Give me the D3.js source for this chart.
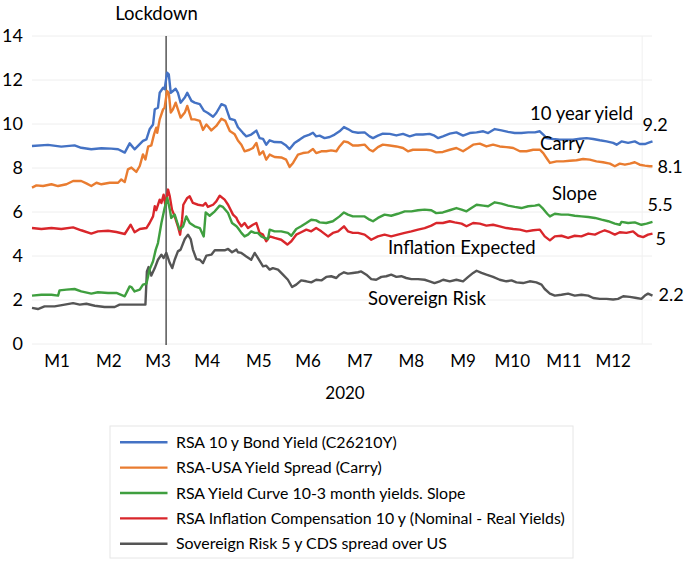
<!DOCTYPE html>
<html>
<head>
<meta charset="utf-8">
<script src="https://cdn.jsdelivr.net/npm/d3@7"></script>
<style>
  body { margin: 0; background: #fff; }
  text { font-family: Lato, "Noto Sans", sans-serif; fill: #000; }
</style>
</head>
<body>
<div id="chart"></div>
<script>
// trading-day index (0..252) and value
var bondYield = [
  [0,9.00],[6.5,9.05],[11.9,8.97],[17.3,9.03],[20,8.92],[24.1,8.85],[28.2,8.90],[32.2,8.88],[35,8.85],[37.7,8.70],
  [39.7,9.12],[41.7,8.85],[45.1,9.23],[46.5,9.30],[47.8,9.76],[49.2,9.98],[49.9,10.67],[51.2,10.74],[51.9,11.42],
  [53.3,11.65],[53.9,11.58],[54.9,12.33],[55.6,12.26],[56.4,11.42],[57.3,11.50],[58.4,11.60],[59.3,11.42],[60.4,10.97],
  [62.1,11.20],[63.1,11.42],[64.8,11.05],[66.1,10.97],[68.2,10.90],[69.9,10.60],[71.5,10.50],[73.6,10.33],[74.9,10.50],
  [77,10.90],[78.6,10.82],[80.4,10.24],[82.4,10.18],
  [83.7,9.85],[85.7,9.60],[87.1,9.44],[89.1,9.52],[91.2,9.70],[92.5,9.36],[93.9,9.32],[95.2,9.06],[96.6,9.26],
  [98.6,9.18],[101.3,9.17],[103.3,9.02],[104.7,8.86],[106.7,9.14],[108.8,9.29],[110.8,9.44],[112.8,9.52],[114.2,9.60],
  [115.5,9.44],[116.9,9.47],[118.9,9.36],[121,9.41],[123,9.52],[125,9.67],[126.8,9.86],[128.4,9.77],[130.4,9.64],
  [132.5,9.60],[135.2,9.62],[137.2,9.44],[138.6,9.36],[140.6,9.47],[142.6,9.56],[145.4,9.55],[148.1,9.48],[150.8,9.55],
  [153.5,9.44],[156.2,9.53],[158.9,9.52],[161.6,9.55],[163.6,9.47],[165,9.36],[167,9.44],
  [169.8,9.56],[172.5,9.62],[175.2,9.47],[177.9,9.59],[180.7,9.62],[183.4,9.67],[185.4,9.59],[188.1,9.77],[190.8,9.71],
  [193.5,9.64],[196.2,9.59],[198.9,9.59],[201.7,9.62],[204.4,9.62],[206.4,9.67],[207.8,9.52],[209.1,9.36],[211.8,9.32],
  [214.5,9.29],[217.2,9.29],[219.9,9.29],[222.7,9.33],[225.4,9.36],[228.1,9.32],[230.8,9.26],[233.5,9.21],[236.2,9.14],
  [237.6,9.06],[239.6,9.21],[242.3,9.14],[245,9.21],[247,9.09],[249.1,9.09],[250.4,9.14],[252.2,9.21]
];
var carry = [
  [0,7.11],[1.8,7.21],[4.5,7.18],[7.9,7.26],[10.6,7.18],[14,7.26],[16.7,7.41],[20,7.41],[22.1,7.30],[24.1,7.18],
  [26.2,7.33],[28.2,7.26],[31.6,7.33],[35,7.33],[36.3,7.48],[37.7,7.36],[39,7.94],[40.4,8.02],[42.4,7.82],[43.8,8.09],
  [45.1,8.62],[46.1,8.39],[47.2,8.97],[48.5,9.03],[49.6,9.53],[50.5,9.83],[50.9,9.60],[51.9,10.21],[53.3,10.67],
  [53.9,10.74],[54.9,11.50],[55.6,11.42],[56.4,10.52],[57.3,10.67],[58.4,10.97],[59.3,10.67],[60.4,10.29],[62.1,10.52],
  [63.1,10.82],[64.8,10.21],[66.1,10.21],[68.2,10.14],[69.5,9.73],[70.9,9.98],[72.9,9.71],[74.9,9.91],[77,10.24],
  [78.6,10.14],[80.4,9.68],[82.4,9.53],
  [83.7,9.25],[85.1,9.06],[86.4,8.76],[88.4,8.83],[89.8,8.91],[91.2,9.14],[92.5,8.61],[93.9,8.76],[95.2,8.38],
  [96.6,8.61],[98.6,8.50],[101.3,8.48],[103.3,8.38],[104.7,8.05],[106.1,8.23],[108.1,8.61],[110.1,8.68],[112.2,8.71],
  [114.2,8.86],[115.5,8.68],[117.6,8.76],[119.6,8.76],[121.6,8.80],[123.7,8.76],[125,8.98],[126.8,9.21],[128.4,9.17],
  [130.4,9.02],[132.5,9.02],[135.2,9.06],[137.2,8.83],[138.6,8.76],[140.6,8.95],[142.6,9.06],[145.4,9.02],[148.1,8.98],
  [150.8,8.91],[152.8,8.76],[154.8,8.83],[157.5,8.83],[160.3,8.83],[162.3,8.80],[164.3,8.71],[167,8.73],
  [169.8,8.83],[172.5,8.91],[175.2,8.76],[177.3,8.91],[179.3,9.06],[182,9.11],[184.7,8.98],[187.4,9.06],[190.1,8.98],
  [192.8,8.95],[195.6,8.91],[198.3,8.76],[201,8.76],[203.7,8.83],[206.4,8.83],[207.8,8.68],[209.4,8.41],[210.5,8.23],
  [213.2,8.30],[215.9,8.30],[218.6,8.33],[221.3,8.35],[224,8.41],[226.7,8.38],[229.4,8.30],[232.1,8.26],[234.9,8.20],
  [236.9,8.08],[238.9,8.20],[241,8.15],[243,8.20],[245,8.26],[247,8.15],[249.1,8.11],[251.1,8.08],[252.2,8.08]
];
var slope = [
  [0,2.20],[3.8,2.24],[7.9,2.24],[10.6,2.20],[11.2,2.44],[14,2.47],[17.3,2.50],[20,2.39],[24.1,2.29],[26.8,2.35],
  [30.9,2.32],[34.3,2.32],[37.7,2.17],[39.7,2.62],[40.4,2.59],[41.7,2.39],[43.8,2.47],[45.1,2.70],[46.5,2.74],
  [47.8,3.38],[49.2,3.76],[50.3,4.29],[51.2,4.59],[52.6,5.50],[53.9,6.18],[55,6.64],[56,6.11],[56.6,5.73],[58,5.88],
  [59.1,5.50],[60,5.20],[61.4,5.35],[62.7,5.80],[64.1,5.50],[66.1,5.35],[68.2,5.27],[69.8,4.89],[70.6,5.98],[72.2,5.83],
  [74.3,6.03],[76.3,6.29],[77.6,6.23],[79.7,5.95],[81.3,5.50],[83.1,5.35],
  [83.7,5.27],[85.1,5.05],[86.4,4.89],[87.8,4.97],[89.1,5.12],[90.5,5.05],[91.8,5.05],[93.2,4.89],[94.5,4.82],
  [95.9,4.77],[96.6,5.20],[98.6,5.12],[101.3,5.12],[104,5.05],[105.4,4.92],[107.4,5.23],[109.4,5.35],[111.5,5.50],
  [113.5,5.65],[115.5,5.62],[116.9,5.53],[119.6,5.50],[122.3,5.58],[125,5.80],[126.8,5.98],[128.4,5.88],[130.4,5.80],
  [132.5,5.80],[135.2,5.80],[137.2,5.65],[138.6,5.58],[140.6,5.73],[143.3,5.88],[146,5.83],[148.7,5.92],[151.5,6.03],
  [154.2,6.03],[156.9,6.08],[159.6,6.11],[162.3,6.08],[164.3,5.95],[167,5.98],
  [169.8,6.08],[172.5,6.18],[174.6,6.11],[176.6,6.03],[178.6,6.18],[180.7,6.33],[183.4,6.29],[185.4,6.26],[188.1,6.44],
  [190.8,6.38],[193.5,6.29],[196.2,6.23],[198.9,6.18],[201.7,6.26],[204.4,6.29],[206.1,6.33],[207.8,6.14],[209.4,5.92],
  [210.5,5.80],[212.5,5.92],[215.2,5.88],[217.9,5.88],[220.6,5.83],[223.3,5.80],[226.1,5.77],[228.8,5.73],[231.5,5.65],
  [234.2,5.58],[236.9,5.47],[238.9,5.42],[239.6,5.55],[242.3,5.50],[245,5.53],[247.7,5.42],[249.8,5.47],[252.2,5.55]
];
var inflation = [
  [0,5.27],[3.8,5.23],[7.9,5.27],[11.9,5.23],[16.7,5.30],[20,5.17],[24.1,5.02],[26.8,5.12],[30.9,5.15],[34.3,5.09],
  [37.7,5.00],[40.1,5.42],[41.7,5.08],[43.8,5.23],[46.5,5.27],[47.8,5.50],[49.2,5.80],[49.9,6.26],[50.5,6.08],
  [51.9,6.56],[52.6,6.41],[53.5,6.79],[54.2,6.33],[55.3,7.02],[56,6.71],[56.9,6.11],[58,5.80],[59.3,5.35],[60.2,4.97],
  [61,5.65],[61.5,6.33],[63.1,6.64],[64.1,6.71],[65.4,6.41],[67.5,6.33],[69.5,6.29],[70.5,6.41],[71.5,6.23],[73.6,6.33],
  [74.9,6.48],[76.3,6.74],[78.3,6.56],[79.7,6.33],[81.7,5.88],[83.1,5.73],
  [83.7,5.58],[85.1,5.35],[86.4,5.50],[87.8,5.27],[89.8,5.42],[91.2,5.50],[92.5,5.05],[93.9,4.97],[95.2,4.67],
  [96.6,4.89],[98.6,4.82],[101.3,4.74],[103.8,4.52],[105.4,4.67],[107.4,4.97],[109.4,5.08],[111.5,5.20],[113.5,5.12],
  [115.5,5.27],[117.6,5.12],[120.3,4.89],[122.3,5.05],[124.4,5.12],[126.8,5.35],[128.4,5.12],[130.4,5.05],[132.5,5.05],
  [135.2,4.97],[137.9,4.74],[140.6,4.89],[143.3,4.97],[146,4.89],[148.7,4.97],[151.5,5.05],[154.2,5.12],[156.9,5.20],
  [159.6,5.27],[162.3,5.38],[164.3,5.50],[167,5.50],
  [169.8,5.58],[171.8,5.53],[174.6,5.47],[176.6,5.35],[179.3,5.50],[182,5.47],[184.7,5.38],[187.4,5.42],[190.1,5.35],
  [192.8,5.27],[195.6,5.23],[198.3,5.20],[201,5.12],[203.7,5.17],[206.4,5.20],[208.4,4.89],[210.5,4.71],[212.5,4.89],
  [215.2,4.92],[217.9,4.82],[220.6,4.92],[223.3,4.89],[226.1,5.02],[228.8,4.97],[230.8,5.08],[232.8,5.17],[234.9,5.08],
  [236.9,4.97],[238.9,5.08],[241.6,5.05],[244.3,5.12],[246.4,4.92],[248.4,4.86],[250.4,4.97],[252.2,5.02]
];
var sovereign = [
  [0,1.64],[2.4,1.59],[5.1,1.71],[9.2,1.71],[13.3,1.79],[16.7,1.86],[19.4,1.79],[22.1,1.83],[25.5,1.74],[29.5,1.68],
  [33.6,1.68],[35.6,1.79],[39,1.79],[43.1,1.79],[46.1,1.79],[46.7,3.30],[47.4,3.50],[48.5,3.11],[49.9,3.45],[51.2,3.83],
  [52.6,4.06],[53.5,3.91],[54.6,4.14],[56,3.68],[57,3.45],[58,3.83],[59.3,4.21],[60.4,4.29],[62.1,4.77],[63.4,4.97],
  [64.5,4.77],[65.4,4.29],[66.8,3.86],[68.2,3.83],[69.5,3.68],[70.9,4.02],[72.9,4.06],[74.3,4.26],[76.3,4.26],
  [78.3,4.26],[79.7,4.32],[81.3,4.17],[83.1,4.29],
  [83.7,4.17],[85.1,4.14],[87.1,3.98],[89.1,3.83],[90.5,4.14],[91.8,3.91],[93.9,3.53],[95.2,3.56],[96.6,3.38],
  [97.9,3.45],[100,3.38],[102,3.15],[104,2.92],[105.7,2.59],[107.4,2.70],[109.4,2.89],[111.5,2.85],[113.5,2.80],
  [115.5,2.92],[117.6,2.89],[119.6,3.05],[121.6,3.08],[123.7,3.00],[125,3.15],[126.8,3.26],[128.4,3.20],[130.4,3.23],
  [132.5,3.26],[133.8,3.30],[135.9,3.15],[137.9,2.95],[139.9,2.92],[142,3.05],[144,3.08],[146,3.15],[148.1,3.05],
  [150.1,3.08],[152.1,3.00],[154.2,2.95],[156.9,2.95],[159.6,2.92],[161.6,2.85],[163.6,2.77],[165.7,2.85],
  [167.1,2.92],[169.8,2.85],[172.5,2.92],[175.2,2.85],[177.3,3.05],[179.3,3.23],[180.7,3.33],[182.7,3.23],[184.7,3.15],
  [187.4,3.05],[190.1,2.92],[192.8,2.85],[194.9,2.89],[196.9,2.80],[199.6,2.77],[202.3,2.85],[205,2.80],[207.1,2.70],
  [208.4,2.50],[210.5,2.29],[212.5,2.20],[215.2,2.24],[217.9,2.29],[220.6,2.20],[223.3,2.24],[226.1,2.20],[228.1,2.09],
  [230.8,2.05],[233.5,2.05],[236.2,2.02],[238.2,2.05],[240.3,2.17],[243,2.14],[245.7,2.09],[247.7,2.05],[249.1,2.20],
  [250.4,2.29],[252.2,2.20]
];

var monthDays = [10, 31, 51, 71, 92, 112, 133, 154, 175, 195, 216, 236];
var monthLabels = ["M1","M2","M3","M4","M5","M6","M7","M8","M9","M10","M11","M12"];
var yTicks = [0, 2, 4, 6, 8, 10, 12, 14];
var lockdownDay = 54.5;

var seriesNames = [
  "RSA 10 y Bond Yield (C26210Y)",
  "RSA-USA Yield Spread (Carry)",
  "RSA Yield Curve 10-3 month yields. Slope",
  "RSA Inflation Compensation 10 y (Nominal - Real Yields)",
  "Sovereign Risk 5 y CDS spread over US"
];
var shortNames = ["10 year yield", "Carry", "Slope", "Inflation Expected", "Sovereign Risk"];
var endLabels = ["9.2", "8.1", "5.5", "5", "2.2"];
var allSeries = [bondYield, carry, slope, inflation, sovereign];
var colors = ["#4472C4", "#E97C30", "#3F9F3F", "#D9262B", "#555555"];

var W = 688, H = 569;
var margin = {top: 36, right: 36, bottom: 225, left: 32};

var x = d3.scaleLinear().domain([0, 252]).range([margin.left, W - margin.right]);
var y = d3.scaleLinear().domain([0, 14]).range([H - margin.bottom, margin.top]);

var svg = d3.select("#chart").append("svg")
    .attr("width", W)
    .attr("height", H);

svg.append("rect").attr("width", W).attr("height", H).attr("fill", "#fff");

// gridlines
svg.append("g")
    .selectAll("line")
    .data(yTicks)
    .enter().append("line")
    .attr("x1", x(0)).attr("x2", x(252))
    .attr("y1", function(d) { return y(d); })
    .attr("y2", function(d) { return y(d); })
    .attr("stroke", "#eeeeee")
    .attr("stroke-width", 1);

svg.append("line")
    .attr("x1", x(248)).attr("x2", x(248))
    .attr("y1", y(14)).attr("y2", y(0))
    .attr("stroke", "#f0f0f0");

var yAxis = svg.append("g")
    .attr("transform", "translate(" + margin.left + ",0)")
    .call(d3.axisLeft(y).tickValues(yTicks).tickSize(0).tickPadding(9));
yAxis.select(".domain").remove();
yAxis.selectAll("text").style("font-size", "18px").style("font-family", "Lato, sans-serif").attr("fill", "#000");

var xAxis = svg.append("g")
    .attr("transform", "translate(0," + y(0) + ")")
    .call(d3.axisBottom(x).tickValues(monthDays).tickSize(0).tickPadding(11)
        .tickFormat(function(d, i) { return monthLabels[i]; }));
xAxis.select(".domain").remove();
xAxis.selectAll("text").style("font-size", "17px").style("font-family", "Lato, sans-serif").attr("fill", "#000");

svg.append("text")
    .attr("x", 345).attr("y", 399)
    .attr("text-anchor", "middle")
    .style("font-size", "17px")
    .text("2020");

// lockdown marker
svg.append("line")
    .attr("x1", x(lockdownDay)).attr("x2", x(lockdownDay))
    .attr("y1", y(14)).attr("y2", y(0) + 1)
    .attr("stroke", "#000")
    .attr("stroke-width", 1);

svg.append("text")
    .attr("x", x(lockdownDay) - 9.5).attr("y", 20)
    .attr("text-anchor", "middle")
    .style("font-size", "18.5px")
    .text("Lockdown");

var line = d3.line()
    .x(function(d) { return x(d[0]); })
    .y(function(d) { return y(d[1]); });

// draw back to front like the original
[4, 3, 2, 1, 0].forEach(function(i) {
    svg.append("path")
        .datum(allSeries[i])
        .attr("fill", "none")
        .attr("stroke", colors[i])
        .attr("stroke-width", 2.4)
        .attr("stroke-linejoin", "round")
        .attr("d", line);
});

// series name annotations: [day, value] anchor
var nameAnchors = [[202.4, 10.18], [206.5, 8.82], [211.4, 6.55], [144.7, 4.09], [136.6, 1.77]];
shortNames.forEach(function(n, i) {
    svg.append("text")
        .attr("x", x(nameAnchors[i][0]))
        .attr("y", y(nameAnchors[i][1]))
        .style("font-size", "18.5px")
        .text(n);
});

// end value labels, offset from the last point
var endOffsets = [[-10, -10], [5, 7], [-5, -11], [3, 11], [6, 5]];
endLabels.forEach(function(t, i) {
    var last = allSeries[i][allSeries[i].length - 1];
    svg.append("text")
        .attr("x", x(last[0]) + endOffsets[i][0])
        .attr("y", y(last[1]) + endOffsets[i][1])
        .style("font-size", "18px")
        .text(t);
});

// legend
var legend = svg.append("g").attr("transform", "translate(110,426)");
legend.append("rect")
    .attr("width", 463).attr("height", 132)
    .attr("fill", "#fff")
    .attr("stroke", "#e6e6e6");

var item = legend.selectAll(".item")
    .data(seriesNames)
    .enter().append("g")
    .attr("transform", function(d, i) { return "translate(0," + (16.3 + i * 25.35) + ")"; });

item.append("line")
    .attr("x1", 10).attr("x2", 57.5)
    .attr("stroke", function(d, i) { return colors[i]; })
    .attr("stroke-width", 2.4);

item.append("text")
    .attr("x", 66).attr("dy", "0.35em")
    .style("font-size", "15.9px")
    .text(function(d) { return d; });
</script>
</body>
</html>
